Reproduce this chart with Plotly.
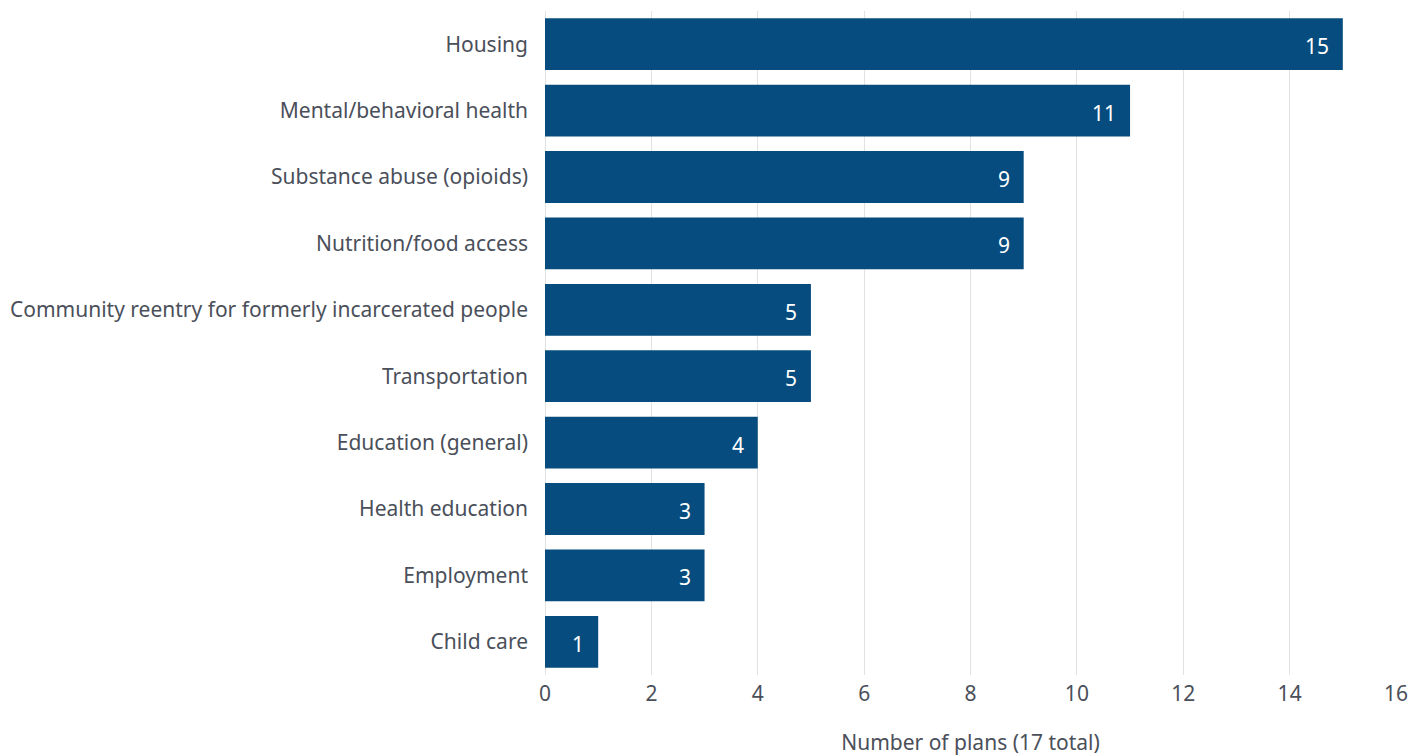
import plotly.graph_objects as go

# Categories listed top to bottom
categories = [
    "Housing",
    "Mental/behavioral health",
    "Substance abuse (opioids)",
    "Nutrition/food access",
    "Community reentry for formerly incarcerated people",
    "Transportation",
    "Education (general)",
    "Health education",
    "Employment",
    "Child care",
]
plans = [15, 11, 9, 9, 5, 5, 4, 3, 3, 1]
x_ticks = [0, 2, 4, 6, 8, 10, 12, 14, 16]

BAR_COLOR = "#064c7e"
TEXT_COLOR = "#4a4f5a"
FONT = "Noto Sans"
SIZE = 21

fig = go.Figure(
    go.Bar(
        x=plans,
        y=categories,
        orientation="h",
        marker=dict(color=BAR_COLOR, line=dict(width=0)),
        hoverinfo="x+y",
    )
)

# value labels just inside the end of each bar
for cat, val in zip(categories, plans):
    fig.add_annotation(
        x=val, y=cat, xref="x", yref="y",
        text=str(val), showarrow=False,
        xanchor="right", xshift=-12, yshift=-2,
        font=dict(color="white", size=SIZE, family=FONT),
    )

fig.update_layout(
    width=1424,
    height=756,
    margin=dict(l=545, r=28, t=11, b=81),
    paper_bgcolor="white",
    plot_bgcolor="white",
    bargap=0.22,
    showlegend=False,
    font=dict(family=FONT, size=SIZE, color=TEXT_COLOR),
)

fig.update_xaxes(
    range=[0, 16],
    tickvals=x_ticks,
    showgrid=True,
    gridcolor="#e2e2e2",
    gridwidth=1,
    zeroline=True,
    zerolinecolor="#e2e2e2",
    zerolinewidth=1,
    showline=False,
    ticks="",
    automargin=False,
    ticklabelstandoff=4,
    tickfont=dict(size=SIZE, color=TEXT_COLOR),
    title=dict(text="Number of plans (17 total)", font=dict(size=SIZE, color=TEXT_COLOR), standoff=34),
)

fig.update_yaxes(
    categoryorder="array",
    categoryarray=categories[::-1],
    showgrid=False,
    showline=False,
    ticks="",
    automargin=False,
    ticklabelstandoff=16,
    tickfont=dict(size=SIZE, color=TEXT_COLOR),
)

fig.write_html("out.html")
